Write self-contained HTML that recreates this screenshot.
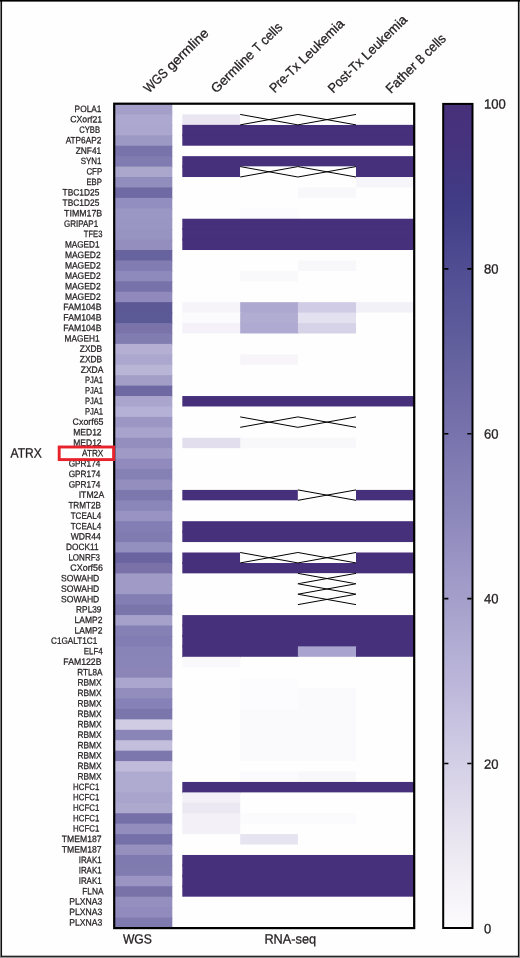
<!DOCTYPE html>
<html lang="en"><head><meta charset="utf-8"><title>Heatmap</title>
<style>
html,body{margin:0;padding:0;background:#fefefe;}
body{width:520px;height:958px;overflow:hidden;}
svg{display:block;}
text{font-family:"Liberation Sans",sans-serif;fill:#231f20;text-rendering:geometricPrecision;}
.g{font-size:9.1px;stroke:#231f20;stroke-width:0.26px;}
.b{font-size:13.4px;stroke:#231f20;stroke-width:0.3px;}
</style></head><body>
<svg width="520" height="958" viewBox="0 0 520 958">
<defs><linearGradient id="cb" x1="0" y1="1" x2="0" y2="0">
<stop offset="0%" stop-color="#fcfbfd"/>
<stop offset="5%" stop-color="#f4f1f7"/>
<stop offset="10%" stop-color="#ebe7f1"/>
<stop offset="15%" stop-color="#e0dbeb"/>
<stop offset="20%" stop-color="#d3cfe6"/>
<stop offset="30%" stop-color="#bbb6d9"/>
<stop offset="40%" stop-color="#a49fca"/>
<stop offset="50%" stop-color="#8d88bb"/>
<stop offset="60%" stop-color="#7873ac"/>
<stop offset="70%" stop-color="#63609e"/>
<stop offset="80%" stop-color="#504d93"/>
<stop offset="88%" stop-color="#403c85"/>
<stop offset="95%" stop-color="#46337e"/>
<stop offset="100%" stop-color="#47307a"/>
</linearGradient></defs>
<rect x="0" y="0" width="520" height="958" fill="#fefefe"/>
<g>
<rect x="115.0" y="104.00" width="57.3" height="11.43" fill="#a39fc9"/>
<rect x="115.0" y="114.43" width="57.3" height="11.43" fill="#aca8cf"/>
<rect x="115.0" y="124.86" width="57.3" height="11.43" fill="#aba7ce"/>
<rect x="115.0" y="135.29" width="57.3" height="11.43" fill="#9d99c5"/>
<rect x="115.0" y="145.72" width="57.3" height="11.43" fill="#7873aa"/>
<rect x="115.0" y="156.15" width="57.3" height="11.43" fill="#807bb0"/>
<rect x="115.0" y="166.58" width="57.3" height="11.43" fill="#aaa6cc"/>
<rect x="115.0" y="177.01" width="57.3" height="11.43" fill="#918dbd"/>
<rect x="115.0" y="187.44" width="57.3" height="11.43" fill="#6f6aa4"/>
<rect x="115.0" y="197.87" width="57.3" height="11.43" fill="#928ec0"/>
<rect x="115.0" y="208.30" width="57.3" height="11.43" fill="#9b97c4"/>
<rect x="115.0" y="218.73" width="57.3" height="11.43" fill="#9a96c3"/>
<rect x="115.0" y="229.16" width="57.3" height="11.43" fill="#9894c2"/>
<rect x="115.0" y="239.59" width="57.3" height="11.43" fill="#938ebe"/>
<rect x="115.0" y="250.02" width="57.3" height="11.43" fill="#67639f"/>
<rect x="115.0" y="260.45" width="57.3" height="11.43" fill="#817cb1"/>
<rect x="115.0" y="270.88" width="57.3" height="11.43" fill="#8f8abc"/>
<rect x="115.0" y="281.31" width="57.3" height="11.43" fill="#7772a9"/>
<rect x="115.0" y="291.74" width="57.3" height="11.43" fill="#8f8abb"/>
<rect x="115.0" y="302.17" width="57.3" height="11.43" fill="#5c5896"/>
<rect x="115.0" y="312.60" width="57.3" height="11.43" fill="#5c5997"/>
<rect x="115.0" y="323.03" width="57.3" height="11.43" fill="#7973aa"/>
<rect x="115.0" y="333.46" width="57.3" height="11.43" fill="#827db1"/>
<rect x="115.0" y="343.89" width="57.3" height="11.43" fill="#b5b0d3"/>
<rect x="115.0" y="354.32" width="57.3" height="11.43" fill="#aca7ce"/>
<rect x="115.0" y="364.75" width="57.3" height="11.43" fill="#b9b5d7"/>
<rect x="115.0" y="375.18" width="57.3" height="11.43" fill="#a39ec8"/>
<rect x="115.0" y="385.61" width="57.3" height="11.43" fill="#6e69a3"/>
<rect x="115.0" y="396.04" width="57.3" height="11.43" fill="#aaa5cd"/>
<rect x="115.0" y="406.47" width="57.3" height="11.43" fill="#b5b0d5"/>
<rect x="115.0" y="416.90" width="57.3" height="11.43" fill="#9b96c4"/>
<rect x="115.0" y="427.33" width="57.3" height="11.43" fill="#a8a3cc"/>
<rect x="115.0" y="437.76" width="57.3" height="11.43" fill="#938ebe"/>
<rect x="115.0" y="448.19" width="57.3" height="11.43" fill="#9f9ac6"/>
<rect x="115.0" y="458.62" width="57.3" height="11.43" fill="#908bbc"/>
<rect x="115.0" y="469.05" width="57.3" height="11.43" fill="#8681b5"/>
<rect x="115.0" y="479.48" width="57.3" height="11.43" fill="#938ebd"/>
<rect x="115.0" y="489.91" width="57.3" height="11.43" fill="#7c77ad"/>
<rect x="115.0" y="500.34" width="57.3" height="11.43" fill="#8b86b9"/>
<rect x="115.0" y="510.77" width="57.3" height="11.43" fill="#9893c2"/>
<rect x="115.0" y="521.20" width="57.3" height="11.43" fill="#837eb3"/>
<rect x="115.0" y="531.63" width="57.3" height="11.43" fill="#807bb1"/>
<rect x="115.0" y="542.06" width="57.3" height="11.43" fill="#938fbf"/>
<rect x="115.0" y="552.49" width="57.3" height="11.43" fill="#6a65a1"/>
<rect x="115.0" y="562.92" width="57.3" height="11.43" fill="#7971a8"/>
<rect x="115.0" y="573.35" width="57.3" height="11.43" fill="#9f9ac6"/>
<rect x="115.0" y="583.78" width="57.3" height="11.43" fill="#9f9ac6"/>
<rect x="115.0" y="594.21" width="57.3" height="11.43" fill="#837eb3"/>
<rect x="115.0" y="604.64" width="57.3" height="11.43" fill="#7a75ab"/>
<rect x="115.0" y="615.07" width="57.3" height="11.43" fill="#a6a1ca"/>
<rect x="115.0" y="625.50" width="57.3" height="11.43" fill="#8681b5"/>
<rect x="115.0" y="635.93" width="57.3" height="11.43" fill="#827db2"/>
<rect x="115.0" y="646.36" width="57.3" height="11.43" fill="#8984b7"/>
<rect x="115.0" y="656.79" width="57.3" height="11.43" fill="#8a85b8"/>
<rect x="115.0" y="667.22" width="57.3" height="11.43" fill="#8c86b8"/>
<rect x="115.0" y="677.65" width="57.3" height="11.43" fill="#aba6cd"/>
<rect x="115.0" y="688.08" width="57.3" height="11.43" fill="#928dbd"/>
<rect x="115.0" y="698.51" width="57.3" height="11.43" fill="#8681b6"/>
<rect x="115.0" y="708.94" width="57.3" height="11.43" fill="#7a75ab"/>
<rect x="115.0" y="719.37" width="57.3" height="11.43" fill="#d0cce4"/>
<rect x="115.0" y="729.80" width="57.3" height="11.43" fill="#8a85b7"/>
<rect x="115.0" y="740.23" width="57.3" height="11.43" fill="#c3bedc"/>
<rect x="115.0" y="750.66" width="57.3" height="11.43" fill="#7c77ad"/>
<rect x="115.0" y="761.09" width="57.3" height="11.43" fill="#c0bbdb"/>
<rect x="115.0" y="771.52" width="57.3" height="11.43" fill="#afaacf"/>
<rect x="115.0" y="781.95" width="57.3" height="11.43" fill="#afaacf"/>
<rect x="115.0" y="792.38" width="57.3" height="11.43" fill="#a9a4cc"/>
<rect x="115.0" y="802.81" width="57.3" height="11.43" fill="#ada8ce"/>
<rect x="115.0" y="813.24" width="57.3" height="11.43" fill="#7670a8"/>
<rect x="115.0" y="823.67" width="57.3" height="11.43" fill="#928dbd"/>
<rect x="115.0" y="834.10" width="57.3" height="11.43" fill="#7670a9"/>
<rect x="115.0" y="844.53" width="57.3" height="11.43" fill="#9690bf"/>
<rect x="115.0" y="854.96" width="57.3" height="11.43" fill="#7f7aaf"/>
<rect x="115.0" y="865.39" width="57.3" height="11.43" fill="#817cb0"/>
<rect x="115.0" y="875.82" width="57.3" height="11.43" fill="#9a95c2"/>
<rect x="115.0" y="886.25" width="57.3" height="11.43" fill="#7872a9"/>
<rect x="115.0" y="896.68" width="57.3" height="11.43" fill="#948fbf"/>
<rect x="115.0" y="907.11" width="57.3" height="11.43" fill="#918cbd"/>
<rect x="115.0" y="917.54" width="57.3" height="10.43" fill="#7f7ab0"/>
<rect x="182.3" y="114.43" width="57.9" height="10.43" fill="#e9e5f1"/>
<rect x="182.3" y="123.86" width="57.9" height="2" fill="#e9e5f1"/>
<rect x="182.3" y="124.86" width="231.7" height="10.43" fill="#47307b"/>
<rect x="182.3" y="134.29" width="231.7" height="2" fill="#47307b"/>
<rect x="182.3" y="135.29" width="231.7" height="10.43" fill="#47307b"/>
<rect x="182.3" y="156.15" width="231.7" height="10.43" fill="#47307b"/>
<rect x="182.3" y="165.58" width="57.9" height="2" fill="#47307b"/>
<rect x="356.0" y="165.58" width="58.0" height="2" fill="#47307b"/>
<rect x="182.3" y="166.58" width="57.9" height="10.43" fill="#47307b"/>
<rect x="356.0" y="166.58" width="58.0" height="10.43" fill="#47307b"/>
<rect x="356.0" y="176.01" width="58.0" height="2" fill="#47307b"/>
<rect x="356.0" y="177.01" width="58.0" height="10.43" fill="#f6f5f9"/>
<rect x="297.9" y="187.44" width="58.1" height="10.43" fill="#f8f7fa"/>
<rect x="240.2" y="208.30" width="57.7" height="10.43" fill="#fcfbfd"/>
<rect x="240.2" y="217.73" width="57.7" height="2" fill="#fcfbfd"/>
<rect x="182.3" y="218.73" width="231.7" height="10.43" fill="#47307b"/>
<rect x="182.3" y="228.16" width="231.7" height="2" fill="#47307b"/>
<rect x="182.3" y="229.16" width="231.7" height="10.43" fill="#47307b"/>
<rect x="182.3" y="238.59" width="231.7" height="2" fill="#47307b"/>
<rect x="182.3" y="239.59" width="231.7" height="10.43" fill="#47307b"/>
<rect x="297.9" y="260.45" width="58.1" height="10.43" fill="#f8f7fa"/>
<rect x="240.2" y="270.88" width="57.7" height="10.43" fill="#f9f8fb"/>
<rect x="182.3" y="302.17" width="58.9" height="10.43" fill="#f6f4f9"/>
<rect x="182.3" y="311.60" width="57.9" height="2" fill="#f6f4f9"/>
<rect x="240.2" y="302.17" width="58.7" height="10.43" fill="#aca8d0"/>
<rect x="240.2" y="311.60" width="57.7" height="2" fill="#aca8d0"/>
<rect x="297.9" y="302.17" width="59.1" height="10.43" fill="#d0cce5"/>
<rect x="297.9" y="311.60" width="58.1" height="2" fill="#d0cce5"/>
<rect x="356.0" y="302.17" width="58.0" height="10.43" fill="#f3f1f8"/>
<rect x="182.3" y="312.60" width="58.9" height="10.43" fill="#fbfafc"/>
<rect x="182.3" y="322.03" width="57.9" height="2" fill="#fbfafc"/>
<rect x="240.2" y="312.60" width="58.7" height="10.43" fill="#b0acd2"/>
<rect x="240.2" y="322.03" width="57.7" height="2" fill="#b0acd2"/>
<rect x="297.9" y="312.60" width="58.1" height="10.43" fill="#e3e0ef"/>
<rect x="297.9" y="322.03" width="58.1" height="2" fill="#e3e0ef"/>
<rect x="182.3" y="323.03" width="58.9" height="10.43" fill="#f4f2f8"/>
<rect x="240.2" y="323.03" width="58.7" height="10.43" fill="#aeaad1"/>
<rect x="297.9" y="323.03" width="58.1" height="10.43" fill="#d6d3e8"/>
<rect x="240.2" y="354.32" width="57.7" height="10.43" fill="#f7f5f9"/>
<rect x="182.3" y="396.04" width="231.7" height="10.43" fill="#47307b"/>
<rect x="182.3" y="437.76" width="58.9" height="10.43" fill="#e2deee"/>
<rect x="240.2" y="437.76" width="115.8" height="10.43" fill="#f8f7fa"/>
<rect x="182.3" y="489.91" width="115.6" height="10.43" fill="#47307b"/>
<rect x="356.0" y="489.91" width="58.0" height="10.43" fill="#47307b"/>
<rect x="182.3" y="521.20" width="231.7" height="10.43" fill="#47307b"/>
<rect x="182.3" y="530.63" width="231.7" height="2" fill="#47307b"/>
<rect x="182.3" y="531.63" width="231.7" height="10.43" fill="#47307b"/>
<rect x="182.3" y="552.49" width="57.9" height="10.43" fill="#47307b"/>
<rect x="182.3" y="561.92" width="57.9" height="2" fill="#47307b"/>
<rect x="356.0" y="552.49" width="58.0" height="10.43" fill="#47307b"/>
<rect x="356.0" y="561.92" width="58.0" height="2" fill="#47307b"/>
<rect x="182.3" y="562.92" width="231.7" height="10.43" fill="#47307b"/>
<rect x="182.3" y="615.07" width="231.7" height="10.43" fill="#47307b"/>
<rect x="182.3" y="624.50" width="231.7" height="2" fill="#47307b"/>
<rect x="182.3" y="625.50" width="231.7" height="10.43" fill="#47307b"/>
<rect x="182.3" y="634.93" width="231.7" height="2" fill="#47307b"/>
<rect x="182.3" y="635.93" width="231.7" height="10.43" fill="#47307b"/>
<rect x="182.3" y="645.36" width="231.7" height="2" fill="#47307b"/>
<rect x="182.3" y="646.36" width="116.6" height="10.43" fill="#47307b"/>
<rect x="182.3" y="655.79" width="57.9" height="2" fill="#47307b"/>
<rect x="297.9" y="646.36" width="59.1" height="10.43" fill="#a9a4cf"/>
<rect x="356.0" y="646.36" width="58.0" height="10.43" fill="#47307b"/>
<rect x="182.3" y="656.79" width="57.9" height="10.43" fill="#f9f8fb"/>
<rect x="240.2" y="677.65" width="57.7" height="10.43" fill="#fcfbfd"/>
<rect x="240.2" y="687.08" width="57.7" height="2" fill="#fcfbfd"/>
<rect x="240.2" y="688.08" width="58.7" height="10.43" fill="#fcfbfd"/>
<rect x="240.2" y="697.51" width="57.7" height="2" fill="#fcfbfd"/>
<rect x="297.9" y="688.08" width="58.1" height="10.43" fill="#fafafc"/>
<rect x="297.9" y="697.51" width="58.1" height="2" fill="#fafafc"/>
<rect x="240.2" y="698.51" width="58.7" height="10.43" fill="#fcfbfd"/>
<rect x="240.2" y="707.94" width="57.7" height="2" fill="#fcfbfd"/>
<rect x="297.9" y="698.51" width="58.1" height="10.43" fill="#fafafc"/>
<rect x="297.9" y="707.94" width="58.1" height="2" fill="#fafafc"/>
<rect x="240.2" y="708.94" width="115.8" height="10.43" fill="#fafafc"/>
<rect x="240.2" y="718.37" width="115.8" height="2" fill="#fafafc"/>
<rect x="240.2" y="719.37" width="115.8" height="10.43" fill="#fafafc"/>
<rect x="240.2" y="728.80" width="115.8" height="2" fill="#fafafc"/>
<rect x="240.2" y="729.80" width="115.8" height="10.43" fill="#fafafc"/>
<rect x="240.2" y="739.23" width="115.8" height="2" fill="#fafafc"/>
<rect x="240.2" y="740.23" width="115.8" height="10.43" fill="#fafafc"/>
<rect x="240.2" y="749.66" width="115.8" height="2" fill="#fafafc"/>
<rect x="240.2" y="750.66" width="115.8" height="10.43" fill="#fafafc"/>
<rect x="240.2" y="771.52" width="58.7" height="10.43" fill="#fbfafc"/>
<rect x="240.2" y="780.95" width="57.7" height="2" fill="#fbfafc"/>
<rect x="297.9" y="771.52" width="58.1" height="10.43" fill="#f8f7fa"/>
<rect x="297.9" y="780.95" width="58.1" height="2" fill="#f8f7fa"/>
<rect x="182.3" y="781.95" width="231.7" height="10.43" fill="#47307b"/>
<rect x="182.3" y="791.38" width="57.9" height="2" fill="#47307b"/>
<rect x="182.3" y="792.38" width="57.9" height="10.43" fill="#f3f1f7"/>
<rect x="182.3" y="801.81" width="57.9" height="2" fill="#f3f1f7"/>
<rect x="182.3" y="802.81" width="57.9" height="10.43" fill="#ebe8f2"/>
<rect x="182.3" y="812.24" width="57.9" height="2" fill="#ebe8f2"/>
<rect x="182.3" y="813.24" width="58.9" height="10.43" fill="#f3f1f7"/>
<rect x="182.3" y="822.67" width="57.9" height="2" fill="#f3f1f7"/>
<rect x="240.2" y="813.24" width="115.8" height="10.43" fill="#fbfafc"/>
<rect x="182.3" y="823.67" width="57.9" height="10.43" fill="#f3f1f7"/>
<rect x="240.2" y="834.10" width="57.7" height="10.43" fill="#e7e4f1"/>
<rect x="182.3" y="854.96" width="231.7" height="10.43" fill="#47307b"/>
<rect x="182.3" y="864.39" width="231.7" height="2" fill="#47307b"/>
<rect x="182.3" y="865.39" width="231.7" height="10.43" fill="#47307b"/>
<rect x="182.3" y="874.82" width="231.7" height="2" fill="#47307b"/>
<rect x="182.3" y="875.82" width="231.7" height="10.43" fill="#47307b"/>
<rect x="182.3" y="885.25" width="231.7" height="2" fill="#47307b"/>
<rect x="182.3" y="886.25" width="231.7" height="10.43" fill="#47307b"/>
</g>
<g stroke="#000" stroke-width="1.0" fill="none">
<rect x="240.2" y="114.43" width="57.7" height="10.43" fill="#fefefe" stroke="none"/><path d="M240.2 114.43L297.9 124.86M240.2 124.86L297.9 114.43"/>
<rect x="297.9" y="114.43" width="58.1" height="10.43" fill="#fefefe" stroke="none"/><path d="M297.9 114.43L356.0 124.86M297.9 124.86L356.0 114.43"/>
<rect x="240.2" y="166.58" width="57.7" height="10.43" fill="#fefefe" stroke="none"/><path d="M240.2 166.58L297.9 177.01M240.2 177.01L297.9 166.58"/>
<rect x="297.9" y="166.58" width="58.1" height="10.43" fill="#fefefe" stroke="none"/><path d="M297.9 166.58L356.0 177.01M297.9 177.01L356.0 166.58"/>
<rect x="240.2" y="416.90" width="57.7" height="10.43" fill="#fefefe" stroke="none"/><path d="M240.2 416.90L297.9 427.33M240.2 427.33L297.9 416.90"/>
<rect x="297.9" y="416.90" width="58.1" height="10.43" fill="#fefefe" stroke="none"/><path d="M297.9 416.90L356.0 427.33M297.9 427.33L356.0 416.90"/>
<rect x="297.9" y="489.91" width="58.1" height="10.43" fill="#fefefe" stroke="none"/><path d="M297.9 489.91L356.0 500.34M297.9 500.34L356.0 489.91"/>
<rect x="240.2" y="552.49" width="57.7" height="10.43" fill="#fefefe" stroke="none"/><path d="M240.2 552.49L297.9 562.92M240.2 562.92L297.9 552.49"/>
<rect x="297.9" y="552.49" width="58.1" height="10.43" fill="#fefefe" stroke="none"/><path d="M297.9 552.49L356.0 562.92M297.9 562.92L356.0 552.49"/>
<rect x="297.9" y="573.35" width="58.1" height="10.43" fill="#fefefe" stroke="none"/><path d="M297.9 573.35L356.0 583.78M297.9 583.78L356.0 573.35"/>
<rect x="297.9" y="583.78" width="58.1" height="10.43" fill="#fefefe" stroke="none"/><path d="M297.9 583.78L356.0 594.21M297.9 594.21L356.0 583.78"/>
<rect x="297.9" y="594.21" width="58.1" height="10.43" fill="#fefefe" stroke="none"/><path d="M297.9 594.21L356.0 604.64M297.9 604.64L356.0 594.21"/>
</g>
<rect x="114.20" y="103.70" width="300.00" height="824.40" fill="none" stroke="#000" stroke-width="2.2"/>
<g>
<text class="g" x="101.5" y="111.97" transform="rotate(.05 101 109)" text-anchor="end" textLength="26.9" lengthAdjust="spacingAndGlyphs">POLA1</text>
<text class="g" x="102.2" y="122.40" transform="rotate(.05 102 120)" text-anchor="end" textLength="31.9" lengthAdjust="spacingAndGlyphs">CXorf21</text>
<text class="g" x="100.1" y="132.82" transform="rotate(.05 100 130)" text-anchor="end" textLength="20.9" lengthAdjust="spacingAndGlyphs">CYBB</text>
<text class="g" x="101.3" y="143.25" transform="rotate(.05 101 141)" text-anchor="end" textLength="35.6" lengthAdjust="spacingAndGlyphs">ATP6AP2</text>
<text class="g" x="101.3" y="153.69" transform="rotate(.05 101 151)" text-anchor="end" textLength="25.6" lengthAdjust="spacingAndGlyphs">ZNF41</text>
<text class="g" x="101.5" y="164.12" transform="rotate(.05 101 161)" text-anchor="end" textLength="20.8" lengthAdjust="spacingAndGlyphs">SYN1</text>
<text class="g" x="102.2" y="174.54" transform="rotate(.05 102 172)" text-anchor="end" textLength="15.8" lengthAdjust="spacingAndGlyphs">CFP</text>
<text class="g" x="101.9" y="184.97" transform="rotate(.05 102 182)" text-anchor="end" textLength="15.5" lengthAdjust="spacingAndGlyphs">EBP</text>
<text class="g" x="99.3" y="195.41" transform="rotate(.05 99 193)" text-anchor="end" textLength="36.7" lengthAdjust="spacingAndGlyphs">TBC1D25</text>
<text class="g" x="99.3" y="205.84" transform="rotate(.05 99 203)" text-anchor="end" textLength="36.7" lengthAdjust="spacingAndGlyphs">TBC1D25</text>
<text class="g" x="102.2" y="216.27" transform="rotate(.05 102 214)" text-anchor="end" textLength="38.1" lengthAdjust="spacingAndGlyphs">TIMM17B</text>
<text class="g" x="98.1" y="226.69" transform="rotate(.05 98 224)" text-anchor="end" textLength="34.0" lengthAdjust="spacingAndGlyphs">GRIPAP1</text>
<text class="g" x="102.4" y="237.12" transform="rotate(.05 102 234)" text-anchor="end" textLength="18.6" lengthAdjust="spacingAndGlyphs">TFE3</text>
<text class="g" x="99.6" y="247.56" transform="rotate(.05 99 245)" text-anchor="end" textLength="34.7" lengthAdjust="spacingAndGlyphs">MAGED1</text>
<text class="g" x="100.7" y="257.99" transform="rotate(.05 100 255)" text-anchor="end" textLength="35.8" lengthAdjust="spacingAndGlyphs">MAGED2</text>
<text class="g" x="100.7" y="268.41" transform="rotate(.05 100 266)" text-anchor="end" textLength="35.8" lengthAdjust="spacingAndGlyphs">MAGED2</text>
<text class="g" x="100.7" y="278.84" transform="rotate(.05 100 276)" text-anchor="end" textLength="35.8" lengthAdjust="spacingAndGlyphs">MAGED2</text>
<text class="g" x="100.7" y="289.27" transform="rotate(.05 100 287)" text-anchor="end" textLength="35.8" lengthAdjust="spacingAndGlyphs">MAGED2</text>
<text class="g" x="100.7" y="299.70" transform="rotate(.05 100 297)" text-anchor="end" textLength="35.8" lengthAdjust="spacingAndGlyphs">MAGED2</text>
<text class="g" x="101.5" y="310.13" transform="rotate(.05 101 307)" text-anchor="end" textLength="38.2" lengthAdjust="spacingAndGlyphs">FAM104B</text>
<text class="g" x="101.5" y="320.56" transform="rotate(.05 101 318)" text-anchor="end" textLength="38.2" lengthAdjust="spacingAndGlyphs">FAM104B</text>
<text class="g" x="101.5" y="330.99" transform="rotate(.05 101 328)" text-anchor="end" textLength="38.2" lengthAdjust="spacingAndGlyphs">FAM104B</text>
<text class="g" x="99.6" y="341.42" transform="rotate(.05 99 339)" text-anchor="end" textLength="35.0" lengthAdjust="spacingAndGlyphs">MAGEH1</text>
<text class="g" x="102.2" y="351.85" transform="rotate(.05 102 349)" text-anchor="end" textLength="22.4" lengthAdjust="spacingAndGlyphs">ZXDB</text>
<text class="g" x="102.2" y="362.28" transform="rotate(.05 102 360)" text-anchor="end" textLength="22.4" lengthAdjust="spacingAndGlyphs">ZXDB</text>
<text class="g" x="103.5" y="372.71" transform="rotate(.05 103 370)" text-anchor="end" textLength="22.8" lengthAdjust="spacingAndGlyphs">ZXDA</text>
<text class="g" x="103.0" y="383.14" transform="rotate(.05 103 380)" text-anchor="end" textLength="18.1" lengthAdjust="spacingAndGlyphs">PJA1</text>
<text class="g" x="103.0" y="393.57" transform="rotate(.05 103 391)" text-anchor="end" textLength="18.1" lengthAdjust="spacingAndGlyphs">PJA1</text>
<text class="g" x="103.0" y="404.00" transform="rotate(.05 103 401)" text-anchor="end" textLength="18.1" lengthAdjust="spacingAndGlyphs">PJA1</text>
<text class="g" x="103.0" y="414.43" transform="rotate(.05 103 412)" text-anchor="end" textLength="18.1" lengthAdjust="spacingAndGlyphs">PJA1</text>
<text class="g" x="103.5" y="424.86" transform="rotate(.05 103 422)" text-anchor="end" textLength="30.9" lengthAdjust="spacingAndGlyphs">Cxorf65</text>
<text class="g" x="101.6" y="435.29" transform="rotate(.05 101 433)" text-anchor="end" textLength="28.3" lengthAdjust="spacingAndGlyphs">MED12</text>
<text class="g" x="101.6" y="445.72" transform="rotate(.05 101 443)" text-anchor="end" textLength="28.3" lengthAdjust="spacingAndGlyphs">MED12</text>
<text class="g" x="103.3" y="456.15" transform="rotate(.05 103 453)" text-anchor="end" textLength="21.2" lengthAdjust="spacingAndGlyphs">ATRX</text>
<text class="g" x="100.4" y="466.58" transform="rotate(.05 100 464)" text-anchor="end" textLength="31.7" lengthAdjust="spacingAndGlyphs">GPR174</text>
<text class="g" x="100.4" y="477.01" transform="rotate(.05 100 474)" text-anchor="end" textLength="31.7" lengthAdjust="spacingAndGlyphs">GPR174</text>
<text class="g" x="100.4" y="487.44" transform="rotate(.05 100 485)" text-anchor="end" textLength="31.7" lengthAdjust="spacingAndGlyphs">GPR174</text>
<text class="g" x="104.2" y="497.87" transform="rotate(.05 104 495)" text-anchor="end" textLength="25.5" lengthAdjust="spacingAndGlyphs">ITM2A</text>
<text class="g" x="100.9" y="508.30" transform="rotate(.05 100 506)" text-anchor="end" textLength="32.5" lengthAdjust="spacingAndGlyphs">TRMT2B</text>
<text class="g" x="101.2" y="518.74" transform="rotate(.05 101 516)" text-anchor="end" textLength="30.5" lengthAdjust="spacingAndGlyphs">TCEAL4</text>
<text class="g" x="101.2" y="529.17" transform="rotate(.05 101 526)" text-anchor="end" textLength="30.5" lengthAdjust="spacingAndGlyphs">TCEAL4</text>
<text class="g" x="100.7" y="539.60" transform="rotate(.05 100 537)" text-anchor="end" textLength="30.0" lengthAdjust="spacingAndGlyphs">WDR44</text>
<text class="g" x="98.6" y="550.02" transform="rotate(.05 98 547)" text-anchor="end" textLength="32.5" lengthAdjust="spacingAndGlyphs">DOCK11</text>
<text class="g" x="100.1" y="560.46" transform="rotate(.05 100 558)" text-anchor="end" textLength="31.7" lengthAdjust="spacingAndGlyphs">LONRF3</text>
<text class="g" x="103.0" y="570.88" transform="rotate(.05 103 568)" text-anchor="end" textLength="32.7" lengthAdjust="spacingAndGlyphs">CXorf56</text>
<text class="g" x="99.3" y="581.31" transform="rotate(.05 99 579)" text-anchor="end" textLength="38.3" lengthAdjust="spacingAndGlyphs">SOWAHD</text>
<text class="g" x="99.3" y="591.75" transform="rotate(.05 99 589)" text-anchor="end" textLength="38.3" lengthAdjust="spacingAndGlyphs">SOWAHD</text>
<text class="g" x="99.3" y="602.18" transform="rotate(.05 99 599)" text-anchor="end" textLength="38.3" lengthAdjust="spacingAndGlyphs">SOWAHD</text>
<text class="g" x="101.5" y="612.61" transform="rotate(.05 101 610)" text-anchor="end" textLength="25.4" lengthAdjust="spacingAndGlyphs">RPL39</text>
<text class="g" x="102.4" y="623.03" transform="rotate(.05 102 620)" text-anchor="end" textLength="27.8" lengthAdjust="spacingAndGlyphs">LAMP2</text>
<text class="g" x="102.4" y="633.47" transform="rotate(.05 102 631)" text-anchor="end" textLength="27.8" lengthAdjust="spacingAndGlyphs">LAMP2</text>
<text class="g" x="97.3" y="643.89" transform="rotate(.05 97 641)" text-anchor="end" textLength="46.3" lengthAdjust="spacingAndGlyphs">C1GALT1C1</text>
<text class="g" x="102.7" y="654.33" transform="rotate(.05 102 652)" text-anchor="end" textLength="19.0" lengthAdjust="spacingAndGlyphs">ELF4</text>
<text class="g" x="101.5" y="664.75" transform="rotate(.05 101 662)" text-anchor="end" textLength="38.2" lengthAdjust="spacingAndGlyphs">FAM122B</text>
<text class="g" x="102.4" y="675.19" transform="rotate(.05 102 672)" text-anchor="end" textLength="25.2" lengthAdjust="spacingAndGlyphs">RTL8A</text>
<text class="g" x="101.6" y="685.62" transform="rotate(.05 101 683)" text-anchor="end" textLength="24.1" lengthAdjust="spacingAndGlyphs">RBMX</text>
<text class="g" x="101.6" y="696.04" transform="rotate(.05 101 693)" text-anchor="end" textLength="24.1" lengthAdjust="spacingAndGlyphs">RBMX</text>
<text class="g" x="101.6" y="706.48" transform="rotate(.05 101 704)" text-anchor="end" textLength="24.1" lengthAdjust="spacingAndGlyphs">RBMX</text>
<text class="g" x="101.6" y="716.90" transform="rotate(.05 101 714)" text-anchor="end" textLength="24.1" lengthAdjust="spacingAndGlyphs">RBMX</text>
<text class="g" x="101.6" y="727.34" transform="rotate(.05 101 725)" text-anchor="end" textLength="24.1" lengthAdjust="spacingAndGlyphs">RBMX</text>
<text class="g" x="101.6" y="737.76" transform="rotate(.05 101 735)" text-anchor="end" textLength="24.1" lengthAdjust="spacingAndGlyphs">RBMX</text>
<text class="g" x="101.6" y="748.20" transform="rotate(.05 101 745)" text-anchor="end" textLength="24.1" lengthAdjust="spacingAndGlyphs">RBMX</text>
<text class="g" x="101.6" y="758.62" transform="rotate(.05 101 756)" text-anchor="end" textLength="24.1" lengthAdjust="spacingAndGlyphs">RBMX</text>
<text class="g" x="101.6" y="769.06" transform="rotate(.05 101 766)" text-anchor="end" textLength="24.1" lengthAdjust="spacingAndGlyphs">RBMX</text>
<text class="g" x="101.6" y="779.49" transform="rotate(.05 101 777)" text-anchor="end" textLength="24.1" lengthAdjust="spacingAndGlyphs">RBMX</text>
<text class="g" x="99.3" y="789.91" transform="rotate(.05 99 787)" text-anchor="end" textLength="26.3" lengthAdjust="spacingAndGlyphs">HCFC1</text>
<text class="g" x="99.3" y="800.35" transform="rotate(.05 99 798)" text-anchor="end" textLength="26.3" lengthAdjust="spacingAndGlyphs">HCFC1</text>
<text class="g" x="99.3" y="810.77" transform="rotate(.05 99 808)" text-anchor="end" textLength="26.3" lengthAdjust="spacingAndGlyphs">HCFC1</text>
<text class="g" x="99.3" y="821.21" transform="rotate(.05 99 818)" text-anchor="end" textLength="26.3" lengthAdjust="spacingAndGlyphs">HCFC1</text>
<text class="g" x="99.3" y="831.63" transform="rotate(.05 99 829)" text-anchor="end" textLength="26.3" lengthAdjust="spacingAndGlyphs">HCFC1</text>
<text class="g" x="101.6" y="842.07" transform="rotate(.05 101 839)" text-anchor="end" textLength="39.8" lengthAdjust="spacingAndGlyphs">TMEM187</text>
<text class="g" x="101.6" y="852.50" transform="rotate(.05 101 850)" text-anchor="end" textLength="39.8" lengthAdjust="spacingAndGlyphs">TMEM187</text>
<text class="g" x="101.6" y="862.93" transform="rotate(.05 101 860)" text-anchor="end" textLength="22.9" lengthAdjust="spacingAndGlyphs">IRAK1</text>
<text class="g" x="101.6" y="873.36" transform="rotate(.05 101 871)" text-anchor="end" textLength="22.9" lengthAdjust="spacingAndGlyphs">IRAK1</text>
<text class="g" x="101.6" y="883.78" transform="rotate(.05 101 881)" text-anchor="end" textLength="22.9" lengthAdjust="spacingAndGlyphs">IRAK1</text>
<text class="g" x="103.5" y="894.22" transform="rotate(.05 103 891)" text-anchor="end" textLength="21.2" lengthAdjust="spacingAndGlyphs">FLNA</text>
<text class="g" x="102.2" y="904.64" transform="rotate(.05 102 902)" text-anchor="end" textLength="33.0" lengthAdjust="spacingAndGlyphs">PLXNA3</text>
<text class="g" x="102.2" y="915.08" transform="rotate(.05 102 912)" text-anchor="end" textLength="33.0" lengthAdjust="spacingAndGlyphs">PLXNA3</text>
<text class="g" x="102.2" y="925.50" transform="rotate(.05 102 923)" text-anchor="end" textLength="33.0" lengthAdjust="spacingAndGlyphs">PLXNA3</text>
<rect x="59.2" y="447.0" width="54.4" height="12.6" fill="none" stroke="#e8222a" stroke-width="2.9"/>
<text class="b" x="10.6" y="457.5" transform="rotate(.05 26 455)" textLength="31.2" lengthAdjust="spacingAndGlyphs">ATRX</text>
<text class="b" x="122.9" y="943.5" transform="rotate(.05 137 940)" textLength="29.0" lengthAdjust="spacingAndGlyphs">WGS</text>
<text class="b" x="264.4" y="943.6" transform="rotate(.05 290 940)" textLength="51.8" lengthAdjust="spacingAndGlyphs">RNA-seq</text>
<text class="b" transform="translate(148.60 93.70) rotate(-44.4)"><tspan x="0.4" textLength="27.8" lengthAdjust="spacingAndGlyphs">WGS</tspan> <tspan x="32.0" textLength="53.2" lengthAdjust="spacingAndGlyphs">germline</tspan></text>
<text class="b" transform="translate(215.95 94.00) rotate(-44.4)"><tspan x="0.4" textLength="54.4" lengthAdjust="spacingAndGlyphs">Germline</tspan> <tspan x="58.7" textLength="6.4" lengthAdjust="spacingAndGlyphs">T</tspan> <tspan x="68.9" textLength="25.4" lengthAdjust="spacingAndGlyphs">cells</tspan></text>
<text class="b" transform="translate(274.40 93.70) rotate(-44.4)"><tspan x="0.4" textLength="37.0" lengthAdjust="spacingAndGlyphs">Pre-Tx</tspan> <tspan x="41.3" textLength="57.4" lengthAdjust="spacingAndGlyphs">Leukemia</tspan></text>
<text class="b" transform="translate(332.95 94.00) rotate(-44.4)"><tspan x="0.4" textLength="43.5" lengthAdjust="spacingAndGlyphs">Post-Tx</tspan> <tspan x="47.7" textLength="57.4" lengthAdjust="spacingAndGlyphs">Leukemia</tspan></text>
<text class="b" transform="translate(390.80 94.25) rotate(-44.4)"><tspan x="0.4" textLength="37.8" lengthAdjust="spacingAndGlyphs">Father</tspan> <tspan x="42.1" textLength="7.0" lengthAdjust="spacingAndGlyphs">B</tspan> <tspan x="52.9" textLength="25.4" lengthAdjust="spacingAndGlyphs">cells</tspan></text>
</g>
<rect x="443.2" y="103.9" width="29.3" height="824.1" fill="url(#cb)" stroke="#000" stroke-width="2"/>
<g stroke="#000" stroke-width="1.6">
<path d="M444.2 763.5h4.2M471.5 763.5h-4.2"/>
<path d="M444.2 598.6h4.2M471.5 598.6h-4.2"/>
<path d="M444.2 433.8h4.2M471.5 433.8h-4.2"/>
<path d="M444.2 268.9h4.2M471.5 268.9h-4.2"/>
</g>
<g>
<text class="b" x="484.0" y="933.2" transform="rotate(.05 490 928)" textLength="7.2" lengthAdjust="spacingAndGlyphs">0</text>
<text class="b" x="484.0" y="768.8" transform="rotate(.05 490 763)" textLength="14.5" lengthAdjust="spacingAndGlyphs">20</text>
<text class="b" x="484.0" y="603.3" transform="rotate(.05 490 599)" textLength="14.5" lengthAdjust="spacingAndGlyphs">40</text>
<text class="b" x="484.0" y="438.4" transform="rotate(.05 490 434)" textLength="14.5" lengthAdjust="spacingAndGlyphs">60</text>
<text class="b" x="484.0" y="273.4" transform="rotate(.05 490 269)" textLength="14.5" lengthAdjust="spacingAndGlyphs">80</text>
<text class="b" x="484.0" y="108.5" transform="rotate(.05 490 104)" textLength="21.8" lengthAdjust="spacingAndGlyphs">100</text>
</g>
<rect x="0" y="0" width="1" height="958" fill="#858585"/>
<rect x="0.9" y="0" width="1.15" height="958" fill="#111"/>
<rect x="519" y="0" width="1" height="958" fill="#8a8a8a"/>
<rect x="517.9" y="0" width="1.15" height="958" fill="#111"/>
<rect x="0" y="956.8" width="520" height="1.2" fill="#999"/>
<rect x="0.9" y="955.7" width="518.1" height="1.2" fill="#111"/>
<rect x="0" y="0" width="520" height="1.6" fill="#000"/>
</svg>
</body></html>
